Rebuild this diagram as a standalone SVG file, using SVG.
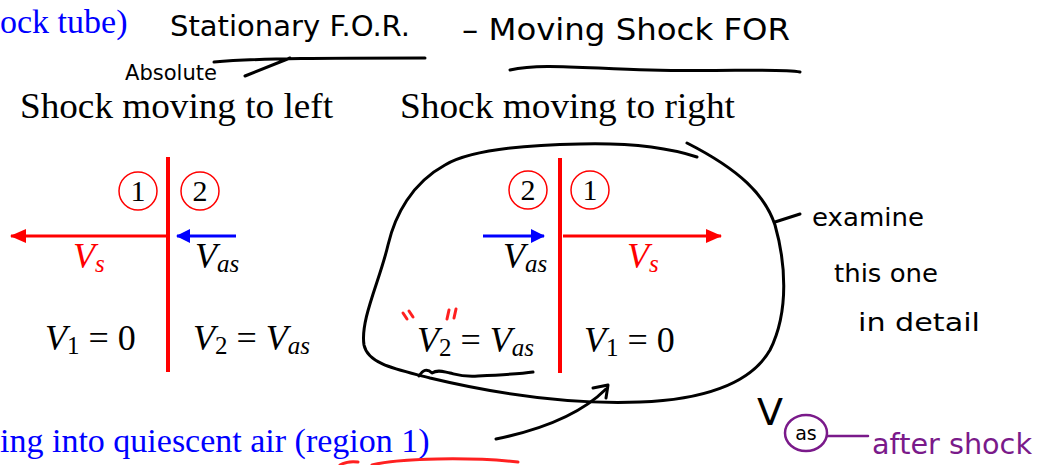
<svg xmlns="http://www.w3.org/2000/svg" width="1043" height="465" viewBox="0 0 1043 465">
<style>
.serif{font-family:"Liberation Serif","Times New Roman",serif;}
.title{font-size:36px;fill:#000;}
.blue{font-size:34px;fill:#0000ff;}
.math{font-family:"Liberation Serif","Times New Roman",serif;font-size:36px;font-style:italic;fill:#000;}
.sub{font-size:25px;}
.up{font-style:normal;}
.num{font-family:"Liberation Serif",serif;font-size:30px;fill:#000;text-anchor:middle;}
.ring{fill:none;stroke:#ff0000;stroke-width:1.5;}
.shock{stroke:#ff0000;stroke-width:4;}
.ink{fill:none;stroke:#000;stroke-width:3;stroke-linecap:round;stroke-linejoin:round;}
.hand{font-family:"DejaVu Sans",sans-serif;fill:#000;}
.purple{fill:none;stroke:#7a1a8a;stroke-width:2.5;stroke-linecap:round;}
</style>
<defs>
<marker id="ar" markerUnits="userSpaceOnUse" markerWidth="16" markerHeight="14" refX="15" refY="7" orient="auto"><path d="M0,0 L16,7 L0,14 Z" fill="#ff0000"/></marker>
<marker id="ab" markerUnits="userSpaceOnUse" markerWidth="14" markerHeight="14" refX="13" refY="7" orient="auto"><path d="M0,0 L14,7 L0,14 Z" fill="#0000ff"/></marker>
</defs>
<rect width="1043" height="465" fill="#fff"/>

<g id="header">
<text class="serif blue" x="0" y="33">ock tube)</text>
<text class="hand" x="170" y="36" font-size="28" textLength="240" lengthAdjust="spacingAndGlyphs">Stationary F.O.R.</text>
<text class="hand" x="462" y="40" font-size="30" textLength="328" lengthAdjust="spacingAndGlyphs">– Moving Shock FOR</text>
<text class="hand" x="125" y="80" font-size="22" textLength="92" lengthAdjust="spacingAndGlyphs">Absolute</text>
<path class="ink" d="M510,70 C540,63 580,68 650,70 C720,72 780,68 800,72"/>
<path class="ink" d="M245,76 L290,58 M214,62 C260,58 330,58 425,58"/>
<text class="serif title" x="20" y="118" textLength="313" lengthAdjust="spacingAndGlyphs">Shock moving to left</text>
<text class="serif title" x="400" y="118" textLength="335" lengthAdjust="spacingAndGlyphs">Shock moving to right</text>
</g>

<g id="shock-left">
<line class="shock" x1="168" y1="157" x2="168" y2="372"/>
<circle class="ring" cx="138" cy="191" r="19"/>
<text class="num" x="138" y="201">1</text>
<circle class="ring" cx="200" cy="191" r="19"/>
<text class="num" x="200" y="201">2</text>
<line x1="166" y1="236" x2="11" y2="236" stroke="#ff0000" stroke-width="3" marker-end="url(#ar)"/>
<line x1="236" y1="236" x2="177" y2="236" stroke="#0000ff" stroke-width="3" marker-end="url(#ab)"/>
<text class="math" x="73" y="268" style="fill:#ff0000">V<tspan class="sub" dy="4">s</tspan></text>
<text class="math" x="195" y="268">V<tspan class="sub" dy="4">as</tspan></text>
<text class="math" x="45" y="350">V<tspan class="sub up" dy="4">1</tspan><tspan class="up" dy="-4"> = 0</tspan></text>
<text class="math" x="193" y="350">V<tspan class="sub up" dy="4">2</tspan><tspan class="up" dy="-4"> = </tspan>V<tspan class="sub" dy="4">as</tspan></text>
</g>

<g id="shock-right">
<line class="shock" x1="560" y1="158" x2="560" y2="373"/>
<circle class="ring" cx="528" cy="190" r="19"/>
<text class="num" x="528" y="200">2</text>
<circle class="ring" cx="590" cy="190" r="19"/>
<text class="num" x="590" y="200">1</text>
<line x1="563" y1="236" x2="721" y2="236" stroke="#ff0000" stroke-width="3" marker-end="url(#ar)"/>
<line x1="483" y1="236" x2="544" y2="236" stroke="#0000ff" stroke-width="3" marker-end="url(#ab)"/>
<text class="math" x="503" y="268">V<tspan class="sub" dy="4">as</tspan></text>
<text class="math" x="627" y="268" style="fill:#ff0000">V<tspan class="sub" dy="4">s</tspan></text>
<text class="math" x="417" y="352">V<tspan class="sub up" dy="4">2</tspan><tspan class="up" dy="-4"> = </tspan>V<tspan class="sub" dy="4">as</tspan></text>
<text class="math" x="584" y="352">V<tspan class="sub up" dy="4">1</tspan><tspan class="up" dy="-4"> = 0</tspan></text>
<path d="M403,313 L407,319 M409,311 L413,317 M449,310 L447,319 M456,309 L454,318" stroke="#ff2020" stroke-width="3" stroke-linecap="round" fill="none"/>
<path class="ink" d="M419,376 C423,370 427,368 432,373 C438,369 444,372 450,373 C458,375 462,377 478,376 C500,375 520,374 533,372"/>
</g>

<g id="loop">
<path class="ink" d="M697,157 C660,145 620,143 580,144 C520,145 470,150 445,165 C412,183 395,215 388,245 C380,280 360,320 364,345 C368,365 400,370 430,378 C480,390 560,405 640,402 C700,400 750,385 770,350 C790,310 785,260 775,225 C765,195 740,170 687,143"/>
</g>

<g id="notes">
<text class="hand" x="812" y="226" font-size="24" textLength="112" lengthAdjust="spacingAndGlyphs">examine</text>
<text class="hand" x="834" y="282" font-size="24" textLength="104" lengthAdjust="spacingAndGlyphs">this one</text>
<text class="hand" x="858" y="331" font-size="24" textLength="122" lengthAdjust="spacingAndGlyphs">in detail</text>
<text class="hand" x="757" y="425" font-size="38">V</text>
<ellipse cx="806" cy="433" rx="21" ry="18" class="purple"/>
<text x="806" y="440" font-family="DejaVu Sans,sans-serif" font-size="19" text-anchor="middle" fill="#000">as</text>
<text x="872" y="454" font-family="DejaVu Sans,sans-serif" font-size="28" fill="#7a1a8a" textLength="160" lengthAdjust="spacingAndGlyphs">after shock</text>
</g>

<g id="footer">
<text class="serif blue" x="0" y="452">ing into quiescent air (region 1)</text>
<path d="M340,465 C345,462 350,461 358,462 M372,465 C400,458 470,457 518,462" stroke="#ff2020" stroke-width="3" fill="none" stroke-linecap="round"/>
</g>

<g id="connectors">
<path class="ink" d="M775,222 L800,214"/>
<path class="ink" d="M827,436 L868,436" style="stroke:#7a1a8a;stroke-width:2.5"/>
<path class="ink" d="M496,439 C540,430 580,415 606,389"/>
<path class="ink" d="M593,388 L608,385 L606,398"/>
</g>
</svg>
